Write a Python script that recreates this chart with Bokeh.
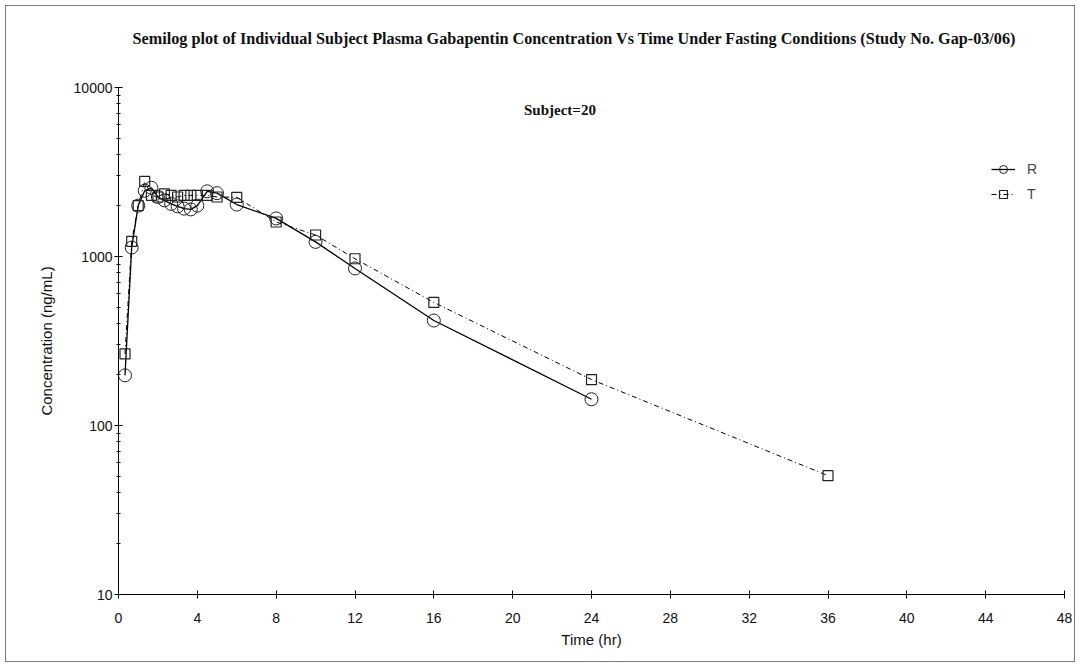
from bokeh.plotting import figure
from bokeh.models import FixedTicker, PrintfTickFormatter, Label, Legend, LegendItem, Title
from bokeh.embed import file_html
from bokeh.resources import INLINE

# ---- data ----
time_r = [0.33, 0.67, 1.0, 1.33, 1.67, 2.0, 2.33, 2.67, 3.0, 3.33, 3.67, 4.0, 4.5, 5.0, 6.0, 8.0, 10.0, 12.0, 16.0, 24.0]
conc_r = [198, 1130, 2000, 2450, 2550, 2250, 2150, 2050, 1980, 1920, 1900, 2000, 2430, 2370, 2030, 1680, 1220, 850, 418, 143]

time_t = [0.33, 0.67, 1.0, 1.33, 1.67, 2.0, 2.33, 2.67, 3.0, 3.33, 3.67, 4.0, 4.5, 5.0, 6.0, 8.0, 10.0, 12.0, 16.0, 24.0, 36.0]
conc_t = [265, 1230, 2000, 2780, 2300, 2250, 2350, 2300, 2250, 2300, 2300, 2300, 2300, 2250, 2240, 1600, 1340, 970, 535, 187, 50.5]

x_ticks = [0, 4, 8, 12, 16, 20, 24, 28, 32, 36, 40, 44, 48]
y_ticks = [10, 100, 1000, 10000]
y_minor = [m * d for d in (10, 100, 1000) for m in range(2, 10)]

title_text = "Semilog plot of Individual Subject Plasma Gabapentin Concentration Vs Time Under Fasting Conditions (Study No. Gap-03/06)"
subject_text = "Subject=20"

p = figure(width=1070, height=657, y_axis_type="log",
           x_range=(0, 48), y_range=(10, 10000),
           output_backend="svg", toolbar_location=None,
           min_border_left=112, min_border_right=12, min_border_top=81, min_border_bottom=69)
p.margin = (5, 5, 5, 5)
p.styles = {"border": "1px solid #777"}

# spacer between title and frame
p.add_layout(Title(text="\u00a0", text_font_size="10px", standoff=22), "above")

p.title.text = title_text
p.title.align = "left"
p.title.offset = 14
p.title.standoff = 10
p.title.text_font = "Liberation Serif"
p.title.text_font_style = "bold"
p.title.text_font_size = "16.2px"
p.title.text_color = "#111111"

p.grid.visible = False
p.outline_line_color = None
p.background_fill_color = "white"
p.border_fill_color = "white"

for ax in (p.xaxis[0], p.yaxis[0]):
    ax.axis_line_color = "black"
    ax.axis_line_width = 1
    ax.major_tick_line_color = "black"
    ax.minor_tick_line_color = "black"
    ax.major_tick_in = 4
    ax.major_tick_out = 4
    ax.minor_tick_in = 2
    ax.minor_tick_out = 2
    ax.major_label_text_font = "Liberation Sans"
    ax.major_label_text_font_size = "14px"
    ax.major_label_text_color = "#111111"
    ax.axis_label_text_font = "Liberation Sans"
    ax.axis_label_text_font_size = "15px"
    ax.axis_label_text_font_style = "normal"
    ax.axis_label_text_color = "#111111"

p.xaxis.ticker = FixedTicker(ticks=x_ticks)
p.xaxis.axis_label = "Time (hr)"
p.xaxis.major_label_standoff = 14
p.xaxis.axis_label_standoff = 5

p.yaxis.ticker = FixedTicker(ticks=y_ticks, minor_ticks=y_minor)
p.yaxis.formatter = PrintfTickFormatter(format="%d")
p.yaxis.axis_label = "Concentration (ng/mL)"
p.yaxis.major_label_standoff = 2
p.yaxis.axis_label_standoff = 16

lr = p.line(time_r, conc_r, line_color="black", line_width=1.3)
sr = p.scatter(time_r, conc_r, marker="circle", size=13, line_color="#222222",
               fill_color=None, line_width=1)
lt = p.line(time_t, conc_t, line_color="black", line_width=1.0, line_dash="5 3 1 3")
st = p.scatter(time_t, conc_t, marker="square", size=10, line_color="#222222",
               fill_color=None, line_width=1.2)

legend = Legend(items=[LegendItem(label="R", renderers=[lr, sr]),
                       LegendItem(label="T", renderers=[lt, st])],
                location=(873, 390), border_line_color=None, background_fill_alpha=0,
                padding=0, spacing=5, glyph_width=24, label_standoff=12,
                label_text_font="Liberation Sans", label_text_font_size="14px")
p.add_layout(legend)

p.add_layout(Label(x=22.4, y=7400, text=subject_text, text_align="center",
                   text_baseline="middle", text_font="Liberation Serif",
                   text_font_style="bold", text_font_size="15px", text_color="#111111"))

open("out.html", "w").write(file_html(p, INLINE))
